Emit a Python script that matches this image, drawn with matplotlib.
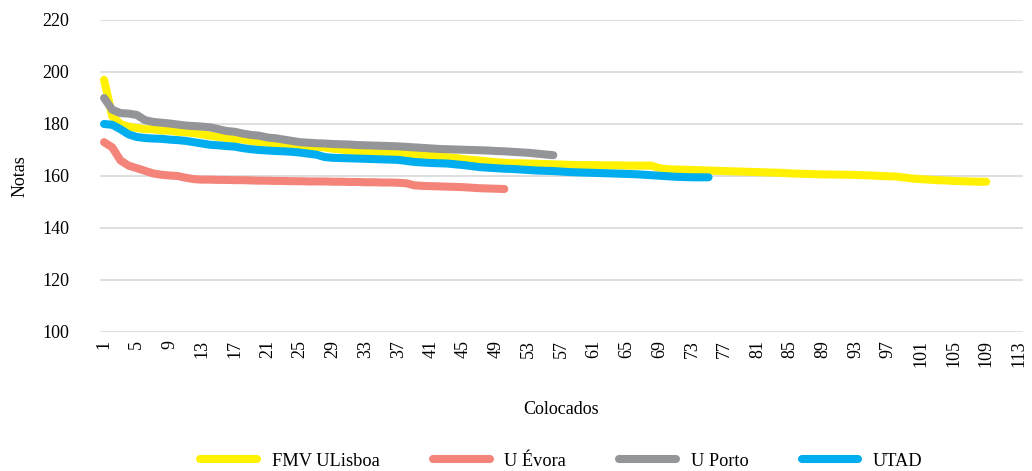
import matplotlib
matplotlib.use("Agg")
import matplotlib.pyplot as plt
import numpy as np

plt.rcParams["font.family"] = ["Liberation Serif", "DejaVu Serif"]

# notas dos colocados, por ordem de colocação
fmv_ulisboa = [
    197.0, 183.0, 180.0, 179.0, 178.5, 178.0, 178.0, 177.5, 177.5, 177.0,
    176.8, 176.5, 176.0, 175.5, 175.0, 174.6, 174.3, 174.0, 173.5, 173.0,
    172.8, 172.5, 172.2, 172.0, 171.7, 171.5, 171.2, 171.0, 170.5, 170.2,
    169.8, 169.6, 169.4, 169.2, 169.0, 168.9, 168.8, 168.5, 168.2, 168.0,
    167.8, 167.5, 167.2, 167.0, 166.5, 166.2, 165.9, 165.6, 165.3, 165.1,
    164.9, 164.9, 164.8, 164.7, 164.6, 164.5, 164.4, 164.3, 164.2, 164.2,
    164.2, 164.1, 164.1, 164.1, 164.0, 164.0, 164.0, 164.0, 163.0, 162.6,
    162.5, 162.4, 162.3, 162.2, 162.1, 162.0, 161.9, 161.8, 161.7, 161.6,
    161.5, 161.4, 161.3, 161.2, 161.0, 160.9, 160.8, 160.7, 160.6, 160.6,
    160.5, 160.5, 160.4, 160.3, 160.2, 160.0, 159.9, 159.8, 159.4, 159.0,
    158.8, 158.6, 158.4, 158.3, 158.1, 158.0, 157.9, 157.8, 157.8,
]
u_evora = [
    173.0, 171.0, 166.0, 164.0, 163.0, 162.0, 161.0, 160.5, 160.2, 160.0,
    159.3, 158.8, 158.6, 158.6, 158.5, 158.5, 158.4, 158.4, 158.3, 158.2,
    158.2, 158.1, 158.1, 158.0, 158.0, 157.9, 157.9, 157.9, 157.8, 157.8,
    157.7, 157.7, 157.6, 157.6, 157.5, 157.5, 157.4, 157.2, 156.4, 156.2,
    156.1, 156.0, 155.9, 155.8, 155.7, 155.5, 155.3, 155.2, 155.1, 155.0,
]
u_porto = [
    190.0, 185.5, 184.2, 184.0, 183.5, 181.5, 180.8, 180.5, 180.2, 179.8,
    179.4, 179.2, 179.0, 178.7, 178.0, 177.3, 177.0, 176.3, 175.8, 175.5,
    174.8, 174.5, 174.0, 173.5, 173.0, 172.8, 172.6, 172.5, 172.3, 172.2,
    172.1, 171.9, 171.8, 171.7, 171.6, 171.5, 171.4, 171.2, 171.0, 170.8,
    170.6, 170.4, 170.3, 170.2, 170.1, 170.0, 169.9, 169.8, 169.6, 169.5,
    169.3, 169.1, 168.9, 168.6, 168.3, 168.0,
]
utad = [
    180.0, 179.7, 178.0, 176.0, 175.0, 174.6, 174.4, 174.3, 174.0, 173.8,
    173.5, 173.0, 172.5, 172.0, 171.8, 171.5, 171.3, 170.7, 170.3, 170.0,
    169.8, 169.6, 169.5, 169.3, 169.0, 168.6, 168.2, 167.3, 167.0, 166.9,
    166.8, 166.7, 166.6, 166.5, 166.4, 166.3, 166.2, 165.8, 165.4, 165.2,
    165.0, 164.9, 164.8, 164.5, 164.2, 163.8, 163.4, 163.2, 163.0, 162.8,
    162.7, 162.5, 162.3, 162.1, 162.0, 161.9, 161.7, 161.5, 161.4, 161.3,
    161.2, 161.1, 161.0, 160.9, 160.8, 160.7, 160.5, 160.3, 160.1, 159.9,
    159.7, 159.6, 159.5, 159.5, 159.5,
]

series = [
    ("FMV ULisboa", fmv_ulisboa, "#FFF100"),
    ("U Évora", u_evora, "#F4847A"),
    ("U Porto", u_porto, "#939598"),
    ("UTAD", utad, "#00AEEF"),
]

n_categories = 113
x_ticks = list(range(1, n_categories + 1, 4))
y_ticks = [100, 120, 140, 160, 180, 200, 220]

fig = plt.figure(figsize=(10.32, 4.71), dpi=100)
ax = fig.add_axes([100 / 1032, 1 - 332 / 471, 923 / 1032, 312 / 471])

for label, values, color in series:
    x = np.arange(1, len(values) + 1)
    ax.plot(x, values, color=color, linewidth=5.8, solid_capstyle="round",
            solid_joinstyle="round", label=label)

ax.set_xlim(0.5, n_categories + 0.5)
ax.set_ylim(100, 220)
ax.set_yticks(y_ticks)
ax.set_xticks(x_ticks)
ax.set_xticklabels([str(t) for t in x_ticks], rotation=90, va="top")
ax.tick_params(axis="x", length=0, pad=6, labelsize=13)
ax.tick_params(axis="y", length=0, pad=22, labelsize=13)
ax.grid(True, axis="y", color="#d9d9d9", linewidth=1.2)
ax.set_axisbelow(True)
for side in ["top", "right", "left", "bottom"]:
    ax.spines[side].set_visible(False)

ax.set_ylabel("Notas", fontsize=13, labelpad=10)
ax.set_xlabel("Colocados", fontsize=13, labelpad=24)

fig.legend(loc="center", bbox_to_anchor=(561.5 / 1032, 1 - 461 / 471), ncol=4,
           frameon=False, fontsize=13.2, handlelength=3.1, handletextpad=0.8,
           columnspacing=2.9)

fig.savefig("out.png", dpi=100)
